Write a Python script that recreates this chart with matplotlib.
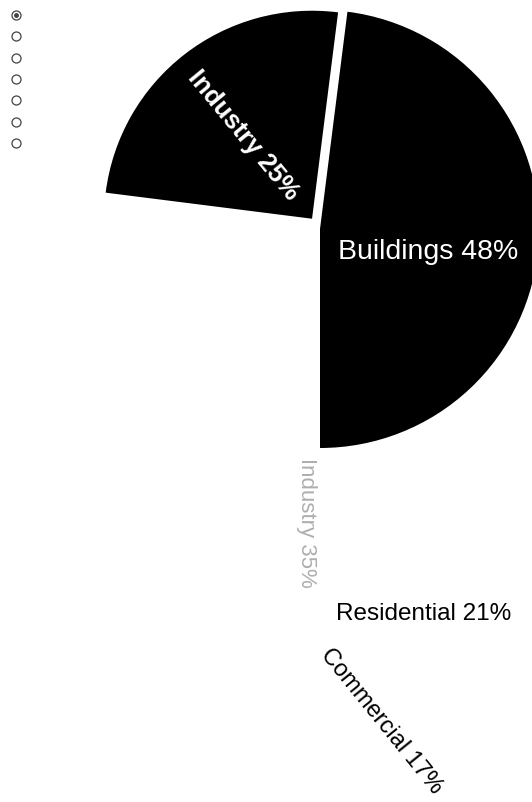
import matplotlib
matplotlib.use('Agg')  # no display
import matplotlib.pyplot as plt

W, H = 532, 802

# data
sectors = ['Industry', 'Buildings', 'Other']
shares = [25, 48, 27]
sector_colors = ['black', 'black', 'white']
building_parts = ['Residential', 'Commercial']
building_shares = [21, 17]
ghost_label = 'Industry 35%'
n_dots = 7

fig = plt.figure(figsize=(W / 100, H / 100), dpi=100)
ax = fig.add_axes([0, 0, 1, 1])

# Buildings wedge ends straight down, everything else follows clockwise
# (explode is in data units here, i.e. pixels)
start = -90 + (shares[0] + shares[1]) * 3.6
wedges, _ = ax.pie(shares, colors=sector_colors, startangle=start,
                   counterclock=False, center=(320, H - 229), radius=219,
                   explode=[13, 0, 0], wedgeprops=dict(linewidth=0))
wedges[0].set_radius(208)  # the pulled-out slice is drawn a bit smaller

ax.set_xlim(0, W)
ax.set_ylim(0, H)
ax.set_aspect('auto')
ax.axis('off')

sans = ['Liberation Sans', 'DejaVu Sans']

# labels inside the black wedges
ax.text(243, H - 135, f'{sectors[0]} {shares[0]}%', color='white', fontsize=18.5,
        fontweight='bold', family=sans, rotation=-50.5, ha='center', va='center',
        rotation_mode='anchor')
ax.text(428, H - 252, f'{sectors[1]} {shares[1]}%', color='white', fontsize=20.5,
        family=sans, ha='center', va='center')

# faint show-through text
ax.text(306, H - 523, ghost_label, color='#9a9a9a', fontsize=16, family=sans,
        rotation=-90, ha='center', va='center', alpha=0.8)

# building breakdown
ax.text(424, H - 614, f'{building_parts[0]} {building_shares[0]}%', color='black',
        fontsize=17.5, family=sans, ha='center', va='center')
ax.text(381, H - 721, f'{building_parts[1]} {building_shares[1]}%', color='black',
        fontsize=17, family=sans, rotation=-51, ha='center', va='center',
        rotation_mode='anchor')

# column of small hollow dots top left
for i in range(n_dots):
    y = H - (15 + i * 21.3)
    ax.plot(16, y, marker='o', ms=6.5, mfc='white', mec='#444', mew=0.9)
    if i == 0:
        ax.plot(16, y, marker='o', ms=2.5, mfc='#444', mec='#444')

fig.savefig('out.png', dpi=100, facecolor='white')
